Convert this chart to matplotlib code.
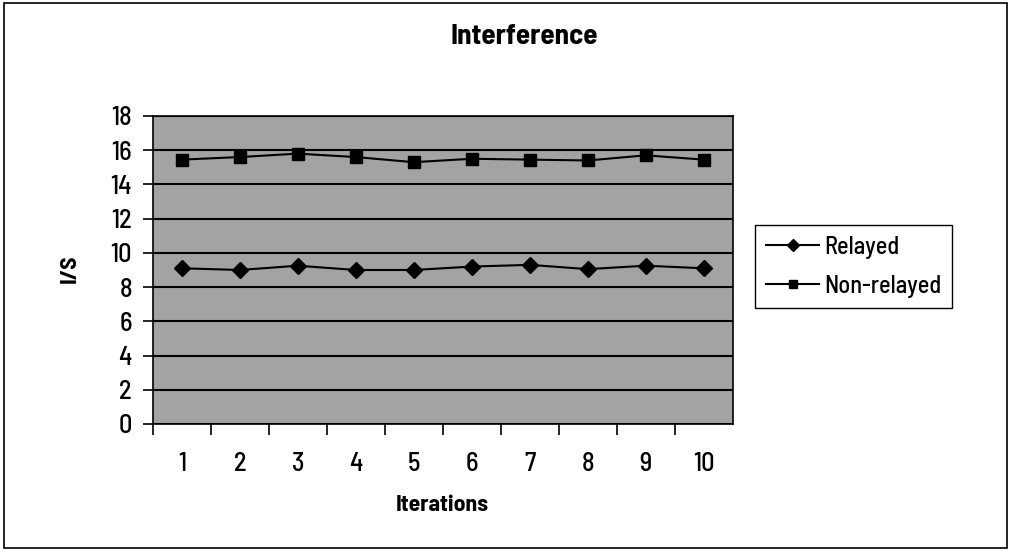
import matplotlib.pyplot as plt
from matplotlib.patches import Rectangle

plt.rcParams['font.family'] = ['Barlow Semi Condensed', 'Liberation Sans']
plt.rcParams['font.weight'] = 'medium'

iterations = [1, 2, 3, 4, 5, 6, 7, 8, 9, 10]
relayed = [9.1, 9.0, 9.25, 9.0, 9.0, 9.2, 9.3, 9.05, 9.25, 9.1]
non_relayed = [15.45, 15.6, 15.8, 15.6, 15.3, 15.5, 15.45, 15.4, 15.7, 15.45]
y_ticks = [0, 2, 4, 6, 8, 10, 12, 14, 16, 18]

fig = plt.figure(figsize=(10.12, 5.51), dpi=100)
fig.patches.append(Rectangle((0.004, 0.006), 0.991, 0.988, transform=fig.transFigure,
                             fill=False, edgecolor='black', linewidth=1.2))

ax = fig.add_axes([0.151, 0.2305, 0.573, 0.559])
ax.set_facecolor('#a3a3a3')
ax.plot(iterations, relayed, color='black', marker='D', markersize=8, linewidth=1.5, label='Relayed')
ax.plot(iterations, non_relayed, color='black', marker='s', markersize=8.5, linewidth=1.5, label='Non-relayed')

ax.set_xlim(0.5, 10.5)
ax.set_ylim(0, 18)
ax.set_yticks(y_ticks)
ax.set_xticks(iterations)
ax.set_xticks([i + 0.5 for i in range(10)], minor=True)
ax.tick_params(axis='x', which='major', length=0, labelsize=19, pad=20)
ax.tick_params(axis='x', which='minor', length=8, width=1.2, direction='out')
ax.tick_params(axis='y', length=7, width=1.2, direction='out', labelsize=19, pad=8)
ax.grid(axis='y', color='black', linewidth=1.5)
ax.set_axisbelow(True)
for s in ax.spines.values():
    s.set_linewidth(1.2)

fig.text(0.437, 0.083, 'Iterations', ha='center', va='center', fontsize=17, fontweight='bold')
fig.text(0.069, 0.512, 'I/S', ha='center', va='center', rotation=90, fontsize=17, fontweight='bold')
fig.text(0.518, 0.934, 'Interference', ha='center', va='center', fontsize=21, fontweight='bold')

fig.legend(loc='upper left', bbox_to_anchor=(0.746, 0.592), fontsize=17.5, frameon=True,
           fancybox=False, edgecolor='black', framealpha=1, handlelength=2.2,
           borderpad=0.45, borderaxespad=0, labelspacing=0.65, handletextpad=0.2, markerscale=0.75)

plt.savefig('out.png')
